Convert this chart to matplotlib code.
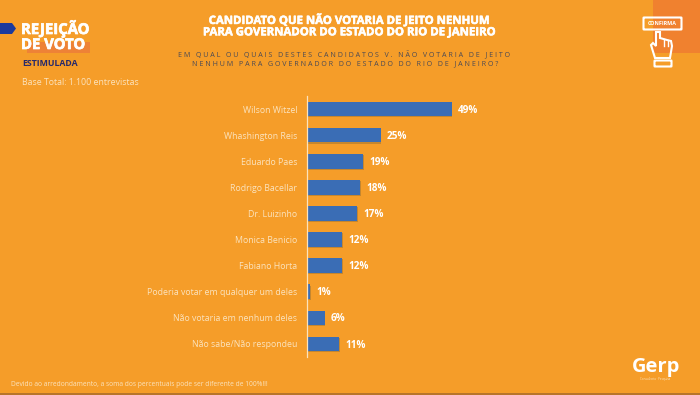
import matplotlib
matplotlib.use("Agg")
import matplotlib.pyplot as plt
import matplotlib.patheffects as pe
from matplotlib.patches import Rectangle, Polygon, FancyBboxPatch

candidatos = ["Wilson Witzel", "Whashington Reis", "Eduardo Paes", "Rodrigo Bacellar", "Dr. Luizinho",
              "Monica Benicio", "Fabiano Horta", "Poderia votar em qualquer um deles",
              "Não votaria em nenhum deles", "Não sabe/Não respondeu"]
valores = [49, 25, 19, 18, 17, 12, 12, 1, 6, 11]

titulo = "CANDIDATO QUE NÃO VOTARIA DE JEITO NENHUM\nPARA GOVERNADOR DO ESTADO DO RIO DE JANEIRO"
pergunta_1 = "E M   Q U A L   O U   Q U A I S   D E S T E S   C A N D I D A T O S   V .   N Ã O   V O T A R I A   D E   J E I T O"
pergunta_2 = "N E N H U M   P A R A   G O V E R N A D O R   D O   E S T A D O   D O   R I O   D E   J A N E I R O ?"

laranja = "#F59D29"
branco_suave = "#FBE3BE"
plt.rcParams['font.family'] = ['Open Sans', 'DejaVu Sans']

fig = plt.figure(figsize=(7, 3.95), dpi=100, facecolor=laranja)

# camada de fundo em pixels
bg = fig.add_axes([0, 0, 1, 1], zorder=0)
bg.set_xlim(0, 700)
bg.set_ylim(395, 0)
bg.axis("off")
bg.add_patch(Rectangle((653, 0), 47, 53, color="#F0812F", lw=0))
bg.add_patch(Rectangle((0, 392.5), 700, 3, color="#B8752A", lw=0))
bg.add_patch(Polygon([(0, 23), (12, 23), (16, 28.5), (12, 34), (0, 34)], color="#1B3A9C", lw=0))
bg.add_patch(Rectangle((27, 42), 63, 11, color="#EE8236", lw=0))

grosso = [pe.withStroke(linewidth=0.5, foreground="white")]
bg.text(21, 29, "REJEIÇÃO", color="white", fontsize=10.7, fontweight="bold", va="center", path_effects=grosso)
bg.text(21, 45, "DE VOTO", color="white", fontsize=10.7, fontweight="bold", va="center", path_effects=grosso)
bg.text(22, 63, "ESTIMULADA", color="#27296B", fontsize=6.3, fontweight="bold", va="center")
bg.text(22, 82.5, "Base Total: 1.100 entrevistas", color=branco_suave, fontsize=6.3, va="center")

bg.text(349, 26.5, titulo, color="white", fontsize=8.2, fontweight="bold", ha="center", va="center",
        linespacing=1.05, path_effects=[pe.withStroke(linewidth=0.4, foreground="white")])
bg.text(344, 54.5, pergunta_1, color="#4A4A55", fontsize=5.15, ha="center", va="center")
bg.text(345, 64, pergunta_2, color="#4A4A55", fontsize=5.15, ha="center", va="center")

bg.text(11, 385, "Devido ao arredondamento, a soma dos percentuais pode ser diferente de 100%!!!",
        color=branco_suave, fontsize=4.75, va="center")

# icone confirma
bg.add_patch(FancyBboxPatch((644, 18), 37, 11, boxstyle="round,pad=0.5", fc="none", ec="white", lw=1.5))
bg.text(662.5, 23.5, "CONFIRMA", color="white", fontsize=3.9, fontweight="bold", ha="center", va="center")
mao = [(656, 32), (656, 46), (653, 43), (651, 45), (655, 58), (670, 58), (672, 46), (671, 41), (667, 40), (660, 38), (660, 32)]
bg.add_patch(Polygon(mao, fc="none", ec="white", lw=1.5, closed=True))
bg.plot([663.5, 663.5], [39, 46], color="white", lw=1)
bg.plot([667.5, 667.5], [40, 46], color="white", lw=1)
bg.add_patch(FancyBboxPatch((655, 61), 16, 5, boxstyle="round,pad=0.5", fc="none", ec="white", lw=1.5))

# logo
bg.text(656, 367, "Gerp", color="white", fontsize=14.5, fontweight="bold", ha="center", va="center")
bg.text(655, 379, "Consultoria · Pesquisa", color=branco_suave, fontsize=2.2, ha="center", va="center")

# grafico
ax = fig.add_axes([307 / 700, 1 - 357 / 395, 295 / 700, 261 / 395], zorder=1)
ax.patch.set_alpha(0)
posicoes = list(range(len(candidatos)))
ax.barh(posicoes, valores, height=0.56, color="#3A6DB5", edgecolor="none",
        path_effects=[pe.SimplePatchShadow(offset=(0.5, -0.8), shadow_rgbFace="#8A6A38", alpha=0.45), pe.Normal()])
ax.set_xlim(0, 100)
ax.set_ylim(len(candidatos) - 0.5, -0.5)
ax.set_yticks(posicoes)
ax.set_yticklabels(candidatos, color=branco_suave, fontsize=6.35)
ax.tick_params(axis="y", length=0, pad=7)
ax.set_xticks([])
for lado in ["top", "right", "bottom"]:
    ax.spines[lado].set_visible(False)
ax.spines["left"].set_color(branco_suave)
ax.spines["left"].set_linewidth(0.9)
for p, v in zip(posicoes, valores):
    ax.annotate(f"{v}%", (v, p), xytext=(4.5, -0.8), textcoords="offset points", color="white",
                fontsize=7.2, fontweight="bold", va="center")

fig.savefig("out.png", dpi=100, facecolor=laranja)
